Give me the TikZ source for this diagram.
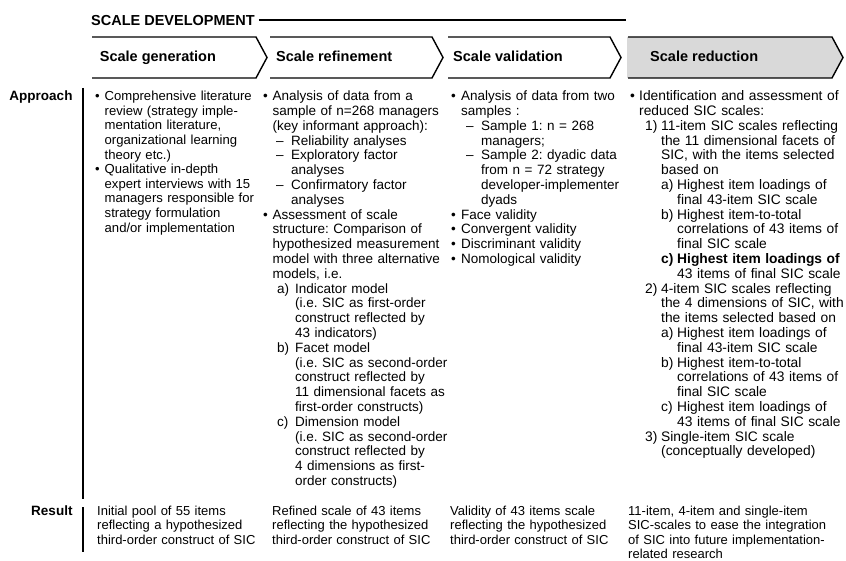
\documentclass[tikz,border=0pt]{standalone}
\usepackage{fontspec}
\setmainfont{Liberation Sans}
\definecolor{chevgray}{HTML}{D9D9D9}
\newcommand\bodyfont{\fontsize{13.5}{14.8}\selectfont\frenchspacing}
\newcommand\bodyfonta{\fontsize{13.1}{14.6}\selectfont\frenchspacing}
\newcommand\bodyfontd{\fontsize{13.8}{14.8}\selectfont\frenchspacing}
\newcommand\resfont{\fontsize{13}{14.5}\selectfont\frenchspacing}
\newcommand\headfont{\fontsize{14.5}{17}\selectfont\bfseries}
\newcommand\Lb[2]{\makebox[#1pt][l]{#2}}
\newcommand\In[1]{\hspace*{#1pt}}
\begin{document}
\begin{tikzpicture}[x=1pt,y=-1pt,
  body/.style={anchor=north west, inner sep=0pt, font=\bodyfont, align=left, text width=230pt},
  res/.style={anchor=north west, inner sep=0pt, font=\resfont, align=left, text width=200pt},
  head/.style={anchor=base west, inner sep=0pt, font=\headfont},
  rowlab/.style={anchor=base east, inner sep=0pt, font=\bodyfont\bfseries},
  chev/.style={line width=1.4pt, line join=miter},
  bar/.style={line width=2pt}]
\useasboundingbox (0,0) rectangle (846,561);

% header
\node[head] (hd) at (91,25.2) {SCALE DEVELOPMENT};
\coordinate (hdend) at (626,20);
\draw[bar] ([xshift=4pt]hd.east |- hdend) -- (hdend);

% chevrons
\fill[chevgray] (627,37) -- (832,37) -- (843,57.5) -- (832,78) -- (627,78) -- cycle;
\draw[chev] (92,37) -- (256,37) -- (267,57.5) -- (256,78) -- (92,78);
\draw[chev] (270,37) -- (432,37) -- (443,57.5) -- (432,78) -- (270,78);
\draw[chev] (448,37) -- (610,37) -- (621,57.5) -- (610,78) -- (448,78);
\draw[chev] (628,37) -- (832,37) -- (843,57.5) -- (832,78) -- (628,78);
\node[head] (c1) at (99.7,62) {Scale generation};
\node[head] (c2) at (276,62) {Scale refinement};
\node[head] (c3) at (453,62) {Scale validation};
\node[head] (c4) at (650,62) {Scale reduction};

% row labels and bars
\node[rowlab] (appr) at (72.7,100.5) {Approach};
\node[rowlab] (resl) at (72.7,515) {Result};
\coordinate (v1t) at (82.5,88);
\coordinate (v1b) at (82.5,499);
\coordinate (v2t) at (82.5,507);
\coordinate (v2b) at (82.5,552);
\draw[bar] (v1t) -- (v1b);
\draw[bar] (v2t) -- (v2b);

% approach column 1
\node[body, font=\bodyfonta] (a1) at (95,90.3) {\strut\Lb{9.5}{\textbullet}Comprehensive literature\\
\In{9.5}review (strategy imple-\\
\In{9.5}mentation literature,\\
\In{9.5}organizational learning\\
\In{9.5}theory etc.)\\
\Lb{9.5}{\textbullet}Qualitative in-depth\\
\In{9.5}expert interviews with 15\\
\In{9.5}managers responsible for\\
\In{9.5}strategy formulation\\
\In{9.5}and/or implementation};

% approach column 2
\node[body] (a2) at (263,90.1) {\strut\Lb{9.5}{\textbullet}Analysis of data from a\\
\In{9.5}sample of n=268 managers\\
\In{9.5}(key informant approach):\\
\In{13}\Lb{15}{–}Reliability analyses\\
\In{13}\Lb{15}{–}Exploratory factor\\
\In{28}analyses\\
\In{13}\Lb{15}{–}Confirmatory factor\\
\In{28}analyses\\
\Lb{9.5}{\textbullet}Assessment of scale\\
\In{9.5}structure: Comparison of\\
\In{9.5}hypothesized measurement\\
\In{9.5}model with three alternative\\
\In{9.5}models, i.e.\\
\In{14}\Lb{18}{a)}Indicator model\\
\In{32}(i.e. SIC as first-order\\
\In{32}construct reflected by\\
\In{32}43 indicators)\\
\In{14}\Lb{18}{b)}Facet model\\
\In{32}(i.e. SIC as second-order\\
\In{32}construct reflected by\\
\In{32}11 dimensional facets as\\
\In{32}first-order constructs)\\
\In{14}\Lb{18}{c)}Dimension model\\
\In{32}(i.e. SIC as second-order\\
\In{32}construct reflected by\\
\In{32}4 dimensions as first-\\
\In{32}order constructs)};

% approach column 3
\node[body] (a3) at (451,90.1) {\strut\Lb{10}{\textbullet}Analysis of data from two\\
\In{10}samples :\\
\In{15}\Lb{15}{–}Sample 1: n = 268\\
\In{30}managers;\\
\In{15}\Lb{15}{–}Sample 2: dyadic data\\
\In{30}from n = 72 strategy\\
\In{30}developer-implementer\\
\In{30}dyads\\
\Lb{10}{\textbullet}Face validity\\
\Lb{10}{\textbullet}Convergent validity\\
\Lb{10}{\textbullet}Discriminant validity\\
\Lb{10}{\textbullet}Nomological validity};

% approach column 4
\node[body, font=\bodyfontd] (a4) at (630,90.1) {\strut\Lb{9}{\textbullet}Identification and assessment of\\
\In{9}reduced SIC scales:\\
\In{15}\Lb{16}{1)}11-item SIC scales reflecting\\
\In{31}the 11 dimensional facets of\\
\In{31}SIC, with the items selected\\
\In{31}based on\\
\In{31}\Lb{16}{a)}Highest item loadings of\\
\In{47}final 43-item SIC scale\\
\In{31}\Lb{16}{b)}Highest item-to-total\\
\In{47}correlations of 43 items of\\
\In{47}final SIC scale\\
\In{31}\Lb{16}{\bfseries c)}\textbf{Highest item loadings of}\\
\In{47}43 items of final SIC scale\\
\In{15}\Lb{16}{2)}4-item SIC scales reflecting\\
\In{31}the 4 dimensions of SIC, with\\
\In{31}the items selected based on\\
\In{31}\Lb{16}{a)}Highest item loadings of\\
\In{47}final 43-item SIC scale\\
\In{31}\Lb{16}{b)}Highest item-to-total\\
\In{47}correlations of 43 items of\\
\In{47}final SIC scale\\
\In{31}\Lb{16}{c)}Highest item loadings of\\
\In{47}43 items of final SIC scale\\
\In{15}\Lb{16}{3)}Single-item SIC scale\\
\In{31}(conceptually developed)};

% results
\node[res] (r1) at (97,504.8) {\strut Initial pool of 55 items\\reflecting a hypothesized\\third-order construct of SIC};
\node[res] (r2) at (272,504.8) {\strut Refined scale of 43 items\\reflecting the hypothesized\\third-order construct of SIC};
\node[res] (r3) at (450,504.8) {\strut Validity of 43 items scale\\reflecting the hypothesized\\third-order construct of SIC};
\node[res] (r4) at (628,504.8) {\strut 11-item, 4-item and single-item\\SIC-scales to ease the integration\\of SIC into future implementation-\\related research};
\end{tikzpicture}
\end{document}
